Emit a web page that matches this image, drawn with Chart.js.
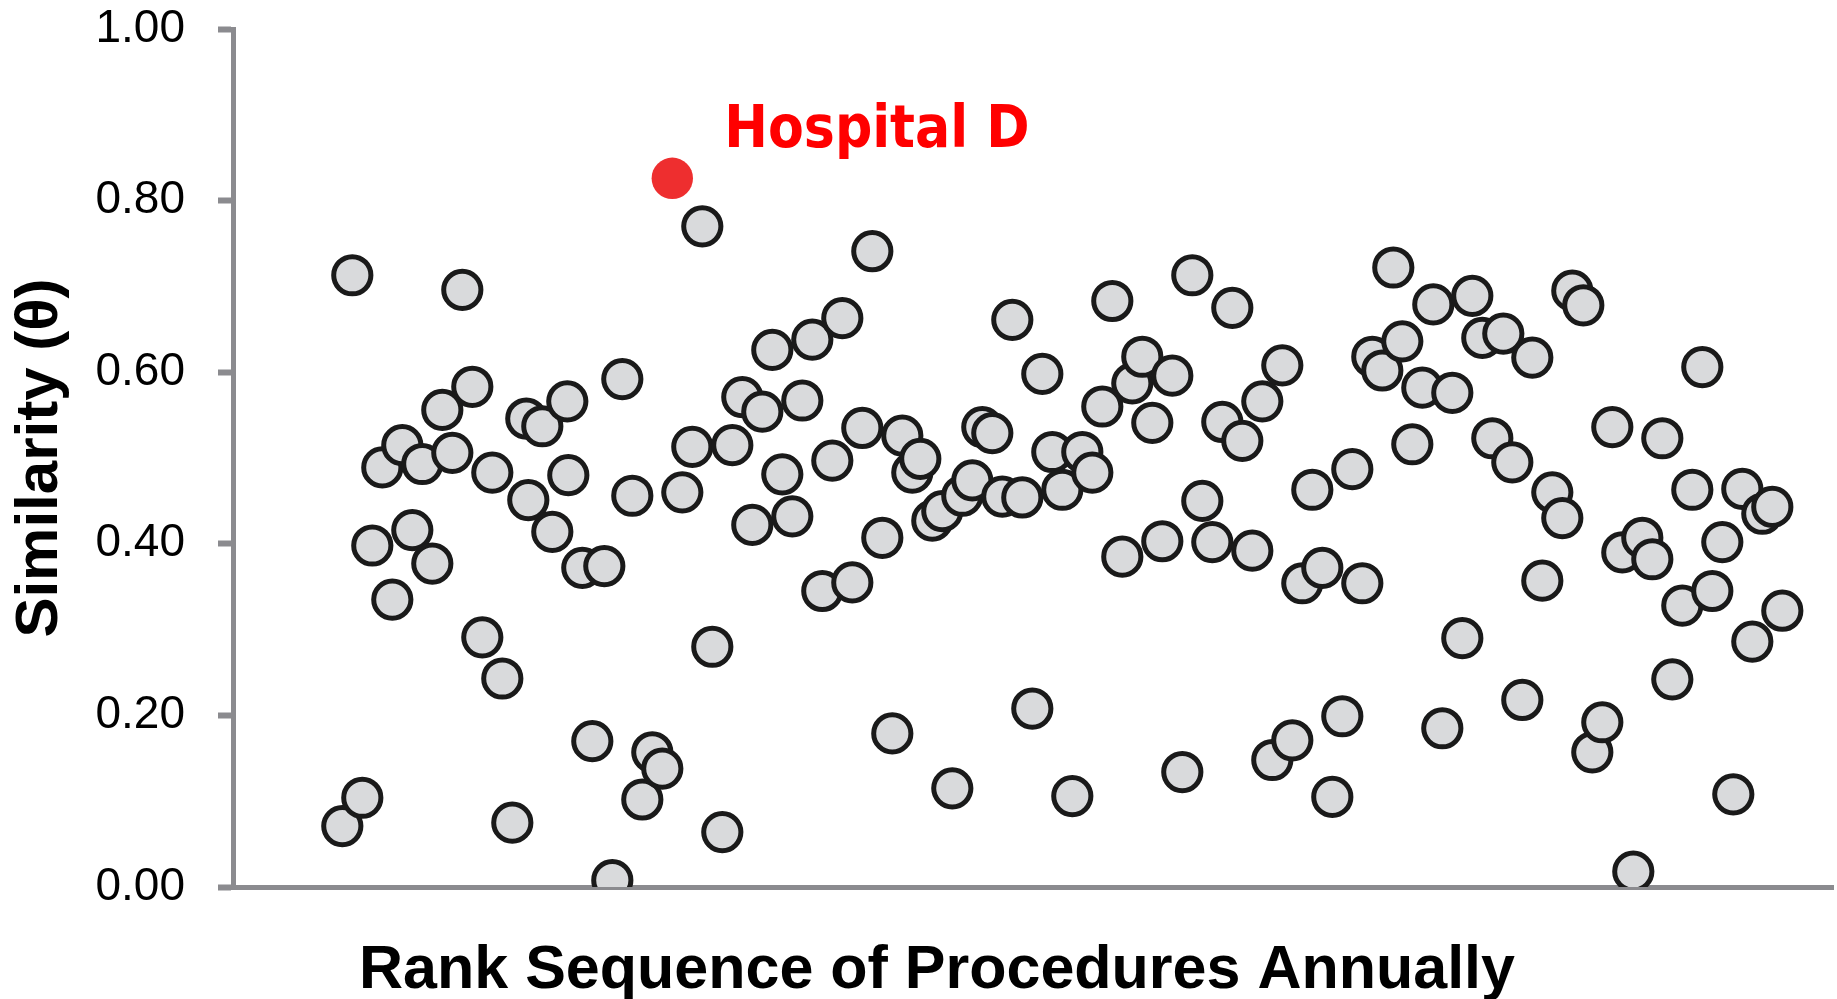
<!DOCTYPE html>
<html>
<head>
<meta charset="utf-8">
<script src="https://cdn.jsdelivr.net/npm/chart.js@4/dist/chart.umd.min.js"></script>
<style>
  html, body { margin: 0; padding: 0; background: #ffffff; overflow: hidden; }
  #wrap { width: 1837px; height: 999px; position: relative; }
</style>
</head>
<body>
<div id="wrap"><canvas id="chart"></canvas></div>
<script>
// ---- data ----
const ranks = [
  1, 2, 3, 4, 5, 6, 7, 8, 9, 10, 11, 12, 13, 14, 15, 16, 17, 18, 19.4, 19.6,
  21, 22, 23.5, 23.6, 25, 26, 27.2, 28, 29, 30, 31, 32, 33, 35, 36, 37, 38, 39, 40,
  41, 42, 43, 44, 45, 46, 47, 48, 49, 50, 51, 52, 53, 54, 55, 56, 57, 58, 58.8, 60,
  61, 62, 63, 64, 65, 66, 67, 68, 69, 70, 71, 72, 73, 74, 75, 76, 77, 78, 79, 80,
  81, 82, 83, 84, 85, 86, 87, 88, 89, 90, 91, 92, 93, 94, 95, 96, 97, 98, 99, 100,
  101, 102, 103, 104, 105, 106.1, 107, 108, 109, 110.1, 111, 112, 113, 114, 115, 116, 117.1, 118, 119, 120,
  121, 122, 123, 124, 125.1, 126, 127, 128, 129, 130.1, 131, 132, 133, 134, 135, 136, 137, 138, 139, 140.1,
  141, 142, 143, 144, 145
];
const similarity = [
  0.071, 0.713, 0.104, 0.398, 0.489, 0.335, 0.515, 0.416, 0.493, 0.377, 0.556, 0.506, 0.696, 0.583, 0.291, 0.483, 0.243, 0.075, 0.546, 0.451,
  0.537, 0.414, 0.566, 0.480, 0.372, 0.170, 0.374, 0.008, 0.592, 0.456, 0.102, 0.157, 0.138, 0.460, 0.513, 0.770, 0.280, 0.064, 0.515,
  0.571, 0.422, 0.554, 0.626, 0.481, 0.432, 0.567, 0.638, 0.345, 0.497, 0.663, 0.355, 0.535, 0.741, 0.407, 0.179, 0.526, 0.483, 0.499, 0.427,
  0.438, 0.115, 0.456, 0.474, 0.536, 0.529, 0.455, 0.661, 0.454, 0.208, 0.598, 0.507, 0.463, 0.106, 0.507, 0.483, 0.560, 0.683, 0.385, 0.587,
  0.618, 0.541, 0.403, 0.596, 0.134, 0.713, 0.450, 0.402, 0.542, 0.675, 0.520, 0.392, 0.566, 0.148, 0.608, 0.171, 0.354, 0.463, 0.372, 0.105,
  0.199, 0.487, 0.354, 0.618, 0.602, 0.722, 0.636, 0.516, 0.582, 0.679, 0.185, 0.576, 0.290, 0.689, 0.640, 0.523, 0.645, 0.495, 0.218, 0.617,
  0.357, 0.460, 0.430, 0.695, 0.678, 0.157, 0.192, 0.536, 0.390, 0.018, 0.407, 0.382, 0.523, 0.242, 0.328, 0.463, 0.606, 0.345, 0.402, 0.108,
  0.464, 0.286, 0.435, 0.443, 0.322
];
const highlightRanks = [34];
const highlightSimilarity = [0.826];
const highlightLabels = ['Hospital D'];
const yTickValues = [0.00, 0.20, 0.40, 0.60, 0.80, 1.00];
const xAxisTitle = 'Rank Sequence of Procedures Annually';
const yAxisTitle = 'Similarity (\u03B8)';

// ---- styling ----
const AXIS_GRAY = '#8b8b8f';
const SANS = "'Liberation Sans', Arial, sans-serif";

const hospitalLabelPlugin = {
  id: 'hospitalLabel',
  afterDatasetsDraw(chart) {
    const ctx = chart.ctx;
    const xs = chart.scales.x, ys = chart.scales.y;
    ctx.save();
    ctx.font = "bold 58px 'DejaVu Sans Condensed', 'DejaVu Sans', sans-serif";
    ctx.fillStyle = '#ff0000';
    ctx.textAlign = 'left';
    ctx.textBaseline = 'alphabetic';
    highlightLabels.forEach((lab, i) => {
      const px = xs.getPixelForValue(highlightRanks[i]);
      const py = ys.getPixelForValue(highlightSimilarity[i]);
      ctx.fillText(lab, px + 52, py - 31);
    });
    ctx.restore();
  }
};

const xTitlePlugin = {
  id: 'xTitle',
  afterDraw(chart) {
    const ctx = chart.ctx;
    const area = chart.chartArea;
    ctx.save();
    ctx.font = 'bold 61px ' + SANS;
    ctx.fillStyle = '#000000';
    ctx.textAlign = 'center';
    ctx.textBaseline = 'alphabetic';
    ctx.fillText(xAxisTitle, area.left + 704, area.bottom + 101);
    ctx.restore();
  }
};

const points = ranks.map((r, i) => ({ x: r, y: similarity[i] }));
const highlightPoints = highlightRanks.map((r, i) => ({ x: r, y: highlightSimilarity[i] }));

new Chart(document.getElementById('chart'), {
  type: 'scatter',
  data: {
    datasets: [
      {
        label: 'Hospitals',
        data: points,
        pointStyle: 'circle',
        pointRadius: 18.6,
        pointBackgroundColor: '#d9dadc',
        pointBorderColor: '#1a1a1a',
        pointBorderWidth: 5
      },
      {
        label: 'Hospital D',
        data: highlightPoints,
        pointStyle: 'circle',
        pointRadius: 20.7,
        pointBackgroundColor: '#ee2e2f',
        pointBorderColor: '#ee2e2f',
        pointBorderWidth: 0
      }
    ]
  },
  options: {
    responsive: true,
    maintainAspectRatio: false,
    devicePixelRatio: 1,
    animation: false,
    events: [],
    layout: { autoPadding: false, padding: { top: 29, right: 4, bottom: 0, left: 0 } },
    plugins: {
      legend: { display: false },
      tooltip: { enabled: false }
    },
    scales: {
      x: {
        type: 'linear',
        min: -9.93,
        max: 150.07,
        grid: { display: false },
        border: { display: true, color: AXIS_GRAY, width: 5 },
        ticks: { display: false },
        title: { display: false, text: xAxisTitle },
        afterFit(scale) { scale.height = 112; scale.paddingLeft = 0; scale.paddingRight = 0; }
      },
      y: {
        type: 'linear',
        min: 0,
        max: 1,
        afterBuildTicks(scale) { scale.ticks = yTickValues.map(v => ({ value: v })); },
        grid: {
          display: true,
          drawOnChartArea: false,
          drawTicks: true,
          tickLength: 15,
          tickWidth: 6,
          tickColor: AXIS_GRAY
        },
        border: { display: true, color: AXIS_GRAY, width: 5 },
        ticks: {
          padding: 33,
          color: '#000000',
          font: { family: SANS, size: 46 },
          callback: (v) => Number(v).toFixed(2)
        },
        title: {
          display: true,
          text: yAxisTitle,
          color: '#000000',
          font: { family: SANS, size: 60, weight: 'bold' },
          padding: { top: 4, bottom: 0 }
        },
        afterFit(scale) { scale.width = 233; scale.paddingTop = 0; scale.paddingBottom = 0; }
      }
    }
  },
  plugins: [hospitalLabelPlugin, xTitlePlugin]
});
</script>
</body>
</html>
